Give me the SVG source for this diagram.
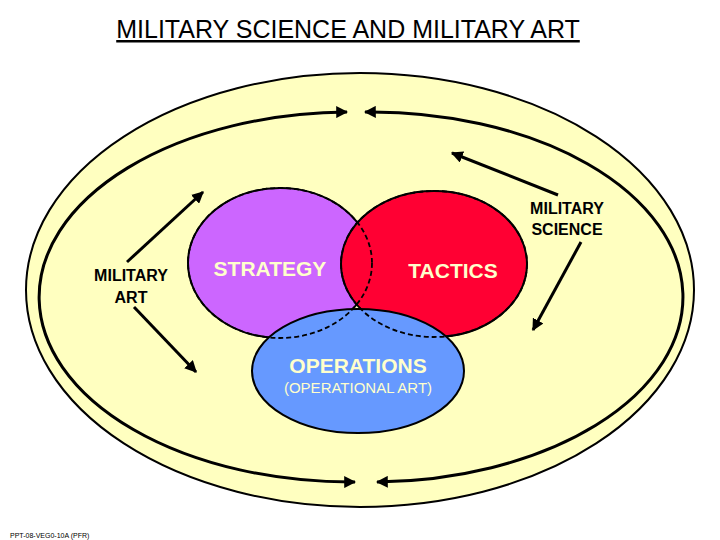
<svg xmlns="http://www.w3.org/2000/svg" width="720" height="540" viewBox="0 0 720 540">
<defs>
<marker id="ah" viewBox="0 0 10 10" refX="9" refY="5" markerWidth="4" markerHeight="4" orient="auto-start-reverse"><path d="M0,0 L10,5 L0,10 z" fill="#000"/></marker>
<style>
.lbl{font-family:"Liberation Sans",Arial,sans-serif;text-anchor:middle}
.blk{font-size:16px;fill:#000;font-weight:bold}
.wh{fill:#ffffcc;font-size:21px;font-weight:bold}
.ln{fill:none;stroke:#000;stroke-width:3;marker-start:url(#ah);marker-end:url(#ah)}
.sa{fill:none;stroke:#000;stroke-width:3;marker-end:url(#ah)}
.dash{fill:none;stroke:#000;stroke-width:1.8;stroke-dasharray:5,3}
</style>
</defs>
<rect width="720" height="540" fill="#fff"/>
<text class="lbl" x="348" y="38" font-size="25" text-decoration="underline">MILITARY SCIENCE AND MILITARY ART</text>
<ellipse cx="360" cy="290" rx="334" ry="217" fill="#ffffc0" stroke="#000" stroke-width="2"/>
<g id="connectors">
<path class="ln" d="M347,112 A312,185 0 0 0 355,482"/>
<path class="ln" d="M365,112 A312,185 0 0 1 377,482"/>
<path class="sa" d="M127,262 L203,192"/>
<path class="sa" d="M134,307 L196,372"/>
<path class="sa" d="M558,195 L452,153"/>
<path class="sa" d="M581,242 L533,330"/>
</g>
<g id="strategy"><ellipse cx="280" cy="263" rx="92" ry="75" fill="#cc66ff" stroke="#000" stroke-width="2"/></g>
<g id="tactics"><ellipse cx="434" cy="264" rx="93" ry="73" fill="#ff0033" stroke="#000" stroke-width="2"/></g>
<g id="operations"><ellipse cx="358" cy="371" rx="106" ry="62" fill="#6699ff" stroke="#000" stroke-width="2"/></g>
<ellipse class="dash" cx="280" cy="263" rx="92" ry="75"/>
<ellipse class="dash" cx="434" cy="264" rx="93" ry="73"/>
<text class="lbl wh" x="270" y="276">STRATEGY</text>
<text class="lbl wh" x="453" y="278">TACTICS</text>
<text class="lbl wh" x="358" y="373">OPERATIONS</text>
<text class="lbl" x="358" y="393" font-size="15" fill="#ffffcc">(OPERATIONAL ART)</text>
<g id="military-art"><text class="lbl blk" x="131" y="281">MILITARY</text><text class="lbl blk" x="131" y="303">ART</text></g>
<g id="military-science"><text class="lbl blk" x="567" y="214">MILITARY</text><text class="lbl blk" x="567" y="235">SCIENCE</text></g>
<text x="10" y="538" font-family="Liberation Sans,Arial,sans-serif" font-size="7">PPT-08-VEG0-10A (PFR)</text>
</svg>
